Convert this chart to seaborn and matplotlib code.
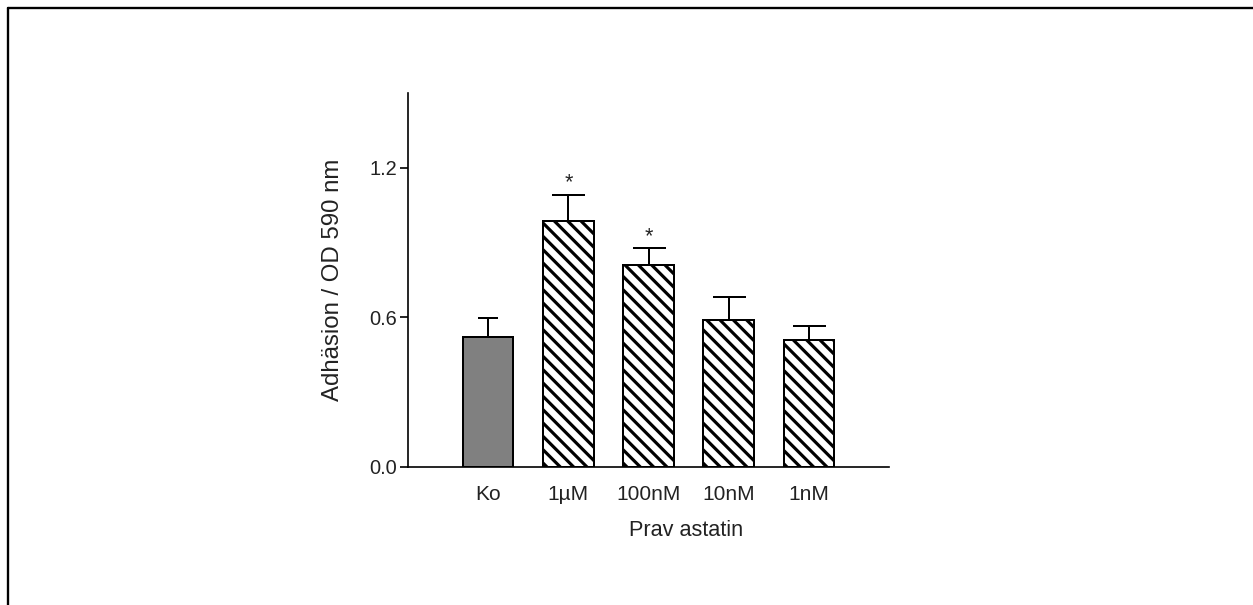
import numpy as np
import pandas as pd
import matplotlib
matplotlib.use("Agg")
import matplotlib.pyplot as plt
from matplotlib.lines import Line2D
import seaborn as sns

categories = ["Ko", "1\u00b5M", "100nM", "10nM", "1nM"]
means = [0.522, 0.985, 0.811, 0.587, 0.507]
sem = [0.073, 0.107, 0.065, 0.094, 0.058]
significant = [False, True, True, False, False]
yticks = [0.0, 0.6, 1.2]
ytick_labels = ["0.0", "0.6", "1.2"]

sns.set_theme(style="white")
plt.rcParams["font.family"] = ["Liberation Sans", "DejaVu Sans"]
plt.rcParams["hatch.linewidth"] = 1.9
plt.rcParams["hatch.color"] = "black"

DPI = 120
fig = plt.figure(figsize=(1253 / DPI, 605 / DPI), dpi=DPI)
fig.patch.set_facecolor("white")
ax = fig.add_axes([408 / 1253, 1 - 466.7 / 605, (889 - 408) / 1253, (466.7 - 93) / 605])

df = pd.DataFrame({"cat": categories, "val": means})
palette = {c: ("#808080" if i == 0 else "white") for i, c in enumerate(categories)}
sns.barplot(data=df, x="cat", y="val", hue="cat", palette=palette, order=categories,
            hue_order=categories, errorbar=None, width=0.63, edgecolor="black",
            linewidth=1.2, legend=False, ax=ax, zorder=2)

for i, p in enumerate(ax.patches[:len(categories)]):
    if i > 0:
        p.set_hatch("\\\\\\")
    p.set_edgecolor("black")

xs = np.arange(len(categories))
for i in range(len(categories)):
    cs = 6 if i == 0 else 9.9
    ax.errorbar(xs[i], means[i], yerr=[[0], [sem[i]]], fmt="none", ecolor="black",
                elinewidth=1.2, capsize=cs, capthick=1.2, zorder=3)
    if significant[i]:
        ax.annotate("*", (xs[i], means[i] + sem[i]), xytext=(0, 1), textcoords="offset points",
                    ha="center", va="bottom", fontsize=13, color="#222222")

ax.set_xlim(-1, 5)
ax.set_ylim(0, 1.5)
ax.set_yticks(yticks)
ax.set_yticklabels(ytick_labels)
sns.despine(ax=ax, top=True, right=True)
for s in ["left", "bottom"]:
    ax.spines[s].set_color("black")
    ax.spines[s].set_linewidth(1.0)
ax.tick_params(axis="y", left=True, length=4.8, width=1.0, pad=1.8, labelsize=12,
               colors="black", labelcolor="#222222")
ax.tick_params(axis="x", length=0, pad=11, labelsize=12.5, labelcolor="#222222")
ax.set_xlabel("Prav astatin", fontsize=13, color="#222222")
ax.set_ylabel("Adh\u00e4sion / OD 590 nm", fontsize=14.4, color="#222222")
ax.xaxis.set_label_coords((686 - 408) / 481, -(530 - 466.7) / 373.7)
ax.yaxis.set_label_coords((333 - 408) / 481, 0.5)
ax.xaxis.label.set_verticalalignment("center")
ax.yaxis.label.set_verticalalignment("center")
ax.set_facecolor("white")

# page frame (left and top edges)
fig.add_artist(Line2D([8 / 1253, 8 / 1253], [0, 1 - 8 / 605], transform=fig.transFigure,
                      color="black", linewidth=1.4))
fig.add_artist(Line2D([8 / 1253, 1], [1 - 8 / 605, 1 - 8 / 605], transform=fig.transFigure,
                      color="black", linewidth=1.4))

fig.savefig("out.png", dpi=DPI, facecolor="white")
